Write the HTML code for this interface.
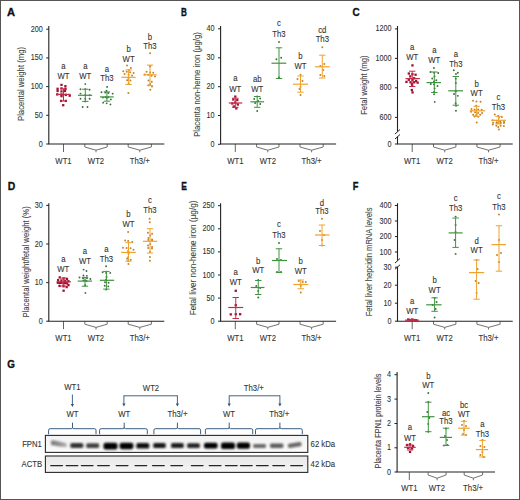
<!DOCTYPE html>
<html><head><meta charset="utf-8"><style>
html,body{margin:0;padding:0;background:#fff;}
svg{display:block;font-family:"Liberation Sans", sans-serif;}
</style></head><body>
<svg width="520" height="500" viewBox="0 0 520 500">
<rect x="0" y="0" width="520" height="500" fill="#fff"/>
<text transform="translate(11.00,16.20) scale(0.96,1)" font-size="11.6" text-anchor="middle" fill="#111" font-weight="bold" stroke="#111" stroke-width="0.35">A</text>
<line x1="48.80" y1="26.00" x2="48.80" y2="144.00" stroke="#222" stroke-width="1.1"/>
<line x1="46.20" y1="29.20" x2="48.80" y2="29.20" stroke="#222" stroke-width="1"/>
<text transform="translate(42.80,31.77) scale(0.87,1)" font-size="8.3" text-anchor="end" fill="#333" stroke="#333" stroke-width="0.1" font-weight="normal" >200</text>
<line x1="46.20" y1="57.90" x2="48.80" y2="57.90" stroke="#222" stroke-width="1"/>
<text transform="translate(42.80,60.47) scale(0.87,1)" font-size="8.3" text-anchor="end" fill="#333" stroke="#333" stroke-width="0.1" font-weight="normal" >150</text>
<line x1="46.20" y1="86.60" x2="48.80" y2="86.60" stroke="#222" stroke-width="1"/>
<text transform="translate(42.80,89.17) scale(0.87,1)" font-size="8.3" text-anchor="end" fill="#333" stroke="#333" stroke-width="0.1" font-weight="normal" >100</text>
<line x1="46.20" y1="115.30" x2="48.80" y2="115.30" stroke="#222" stroke-width="1"/>
<text transform="translate(42.80,117.87) scale(0.87,1)" font-size="8.3" text-anchor="end" fill="#333" stroke="#333" stroke-width="0.1" font-weight="normal" >50</text>
<line x1="46.20" y1="144.00" x2="48.80" y2="144.00" stroke="#222" stroke-width="1"/>
<text transform="translate(42.80,146.57) scale(0.87,1)" font-size="8.3" text-anchor="end" fill="#333" stroke="#333" stroke-width="0.1" font-weight="normal" >0</text>
<text x="0" y="0" font-size="8.9" text-anchor="middle" fill="#404040" stroke="#404040" stroke-width="0.08" transform="translate(20.50,84.00) rotate(-90) scale(0.865,1)" dy="3.24">Placental weight (mg)</text>
<line x1="63.50" y1="144.00" x2="63.50" y2="152.00" stroke="#555" stroke-width="0.9"/>
<path d="M84.80,144.00 L84.80,147.00 L96.00,150.20 L107.20,147.00 L107.20,144.00 M96.00,150.20 L96.00,152.30" fill="none" stroke="#5a5a5a" stroke-width="0.85"/>
<path d="M128.20,144.00 L128.20,147.00 L139.80,150.20 L151.40,147.00 L151.40,144.00 M139.80,150.20 L139.80,152.30" fill="none" stroke="#5a5a5a" stroke-width="0.85"/>
<text transform="translate(63.50,163.73) scale(0.9,1)" font-size="8.6" text-anchor="middle" fill="#333" stroke="#333" stroke-width="0.1" font-weight="normal" >WT1</text>
<text transform="translate(96.00,163.73) scale(0.9,1)" font-size="8.6" text-anchor="middle" fill="#333" stroke="#333" stroke-width="0.1" font-weight="normal" >WT2</text>
<text transform="translate(139.80,163.73) scale(0.9,1)" font-size="8.6" text-anchor="middle" fill="#333" stroke="#333" stroke-width="0.1" font-weight="normal" >Th3/+</text>
<line x1="48.30" y1="144.00" x2="164.30" y2="144.00" stroke="#222" stroke-width="1.1"/>
<text transform="translate(63.50,69.44) scale(0.9,1)" font-size="8.6" text-anchor="middle" fill="#333" stroke="#333" stroke-width="0.1" font-weight="normal" >a</text>
<text transform="translate(63.50,79.43) scale(0.9,1)" font-size="8.6" text-anchor="middle" fill="#333" stroke="#333" stroke-width="0.1" font-weight="normal" >WT</text>
<rect x="60.35" y="83.75" width="2.30" height="2.30" fill="#a3102f"/>
<rect x="64.25" y="85.05" width="2.30" height="2.30" fill="#a3102f"/>
<rect x="56.45" y="87.65" width="2.30" height="2.30" fill="#a3102f"/>
<rect x="60.35" y="87.25" width="2.30" height="2.30" fill="#a3102f"/>
<rect x="64.25" y="87.65" width="2.30" height="2.30" fill="#a3102f"/>
<rect x="56.45" y="89.85" width="2.30" height="2.30" fill="#a3102f"/>
<rect x="60.35" y="90.25" width="2.30" height="2.30" fill="#a3102f"/>
<rect x="63.85" y="89.85" width="2.30" height="2.30" fill="#a3102f"/>
<rect x="56.05" y="93.25" width="2.30" height="2.30" fill="#a3102f"/>
<rect x="60.35" y="93.25" width="2.30" height="2.30" fill="#a3102f"/>
<rect x="64.65" y="93.75" width="2.30" height="2.30" fill="#a3102f"/>
<rect x="68.55" y="94.55" width="2.30" height="2.30" fill="#a3102f"/>
<rect x="60.35" y="95.05" width="2.30" height="2.30" fill="#a3102f"/>
<rect x="59.95" y="99.75" width="2.30" height="2.30" fill="#a3102f"/>
<rect x="64.65" y="99.75" width="2.30" height="2.30" fill="#a3102f"/>
<rect x="62.05" y="104.05" width="2.30" height="2.30" fill="#a3102f"/>
<line x1="63.50" y1="88.80" x2="63.50" y2="101.00" stroke="#c42c4c" stroke-width="1.0"/>
<line x1="60.30" y1="88.80" x2="66.70" y2="88.80" stroke="#c42c4c" stroke-width="1.0"/>
<line x1="60.30" y1="101.00" x2="66.70" y2="101.00" stroke="#c42c4c" stroke-width="1.0"/>
<line x1="56.30" y1="94.40" x2="70.60" y2="94.40" stroke="#c42c4c" stroke-width="1.2"/>
<text transform="translate(85.30,69.44) scale(0.9,1)" font-size="8.6" text-anchor="middle" fill="#333" stroke="#333" stroke-width="0.1" font-weight="normal" >a</text>
<text transform="translate(85.30,79.43) scale(0.9,1)" font-size="8.6" text-anchor="middle" fill="#333" stroke="#333" stroke-width="0.1" font-weight="normal" >WT</text>
<circle cx="85.30" cy="84.10" r="0.95" fill="#3a6e3a"/>
<circle cx="80.50" cy="89.20" r="0.95" fill="#3a6e3a"/>
<circle cx="85.30" cy="89.20" r="0.95" fill="#3a6e3a"/>
<circle cx="89.60" cy="89.70" r="0.95" fill="#3a6e3a"/>
<circle cx="80.50" cy="93.60" r="0.95" fill="#3a6e3a"/>
<circle cx="85.30" cy="95.30" r="0.95" fill="#3a6e3a"/>
<circle cx="89.60" cy="95.30" r="0.95" fill="#3a6e3a"/>
<circle cx="80.50" cy="98.80" r="0.95" fill="#3a6e3a"/>
<circle cx="85.30" cy="98.80" r="0.95" fill="#3a6e3a"/>
<circle cx="89.60" cy="98.80" r="0.95" fill="#3a6e3a"/>
<circle cx="85.30" cy="101.40" r="0.95" fill="#3a6e3a"/>
<circle cx="82.70" cy="107.00" r="0.95" fill="#3a6e3a"/>
<circle cx="87.50" cy="107.00" r="0.95" fill="#3a6e3a"/>
<line x1="85.30" y1="89.20" x2="85.30" y2="101.40" stroke="#3f943f" stroke-width="1.0"/>
<line x1="82.10" y1="89.20" x2="88.50" y2="89.20" stroke="#3f943f" stroke-width="1.0"/>
<line x1="82.10" y1="101.40" x2="88.50" y2="101.40" stroke="#3f943f" stroke-width="1.0"/>
<line x1="78.00" y1="95.30" x2="92.20" y2="95.30" stroke="#3f943f" stroke-width="1.2"/>
<text transform="translate(106.90,71.94) scale(0.9,1)" font-size="8.6" text-anchor="middle" fill="#333" stroke="#333" stroke-width="0.1" font-weight="normal" >a</text>
<text transform="translate(106.90,81.33) scale(0.9,1)" font-size="8.6" text-anchor="middle" fill="#333" stroke="#333" stroke-width="0.1" font-weight="normal" >Th3</text>
<circle cx="107.11" cy="86.90" r="0.95" fill="#3a6e3a"/>
<circle cx="106.50" cy="90.71" r="0.95" fill="#3a6e3a"/>
<circle cx="101.46" cy="92.22" r="0.95" fill="#3a6e3a"/>
<circle cx="105.28" cy="92.53" r="0.95" fill="#3a6e3a"/>
<circle cx="108.48" cy="93.00" r="0.95" fill="#3a6e3a"/>
<circle cx="112.66" cy="93.66" r="0.95" fill="#3a6e3a"/>
<circle cx="105.42" cy="97.14" r="0.95" fill="#3a6e3a"/>
<circle cx="108.32" cy="97.29" r="0.95" fill="#3a6e3a"/>
<circle cx="102.92" cy="97.58" r="0.95" fill="#3a6e3a"/>
<circle cx="106.93" cy="97.87" r="0.95" fill="#3a6e3a"/>
<circle cx="110.85" cy="99.39" r="0.95" fill="#3a6e3a"/>
<circle cx="103.20" cy="102.64" r="0.95" fill="#3a6e3a"/>
<circle cx="106.67" cy="103.34" r="0.95" fill="#3a6e3a"/>
<circle cx="110.44" cy="104.40" r="0.95" fill="#3a6e3a"/>
<line x1="106.90" y1="91.90" x2="106.90" y2="101.20" stroke="#3f943f" stroke-width="1.0"/>
<line x1="103.70" y1="91.90" x2="110.10" y2="91.90" stroke="#3f943f" stroke-width="1.0"/>
<line x1="103.70" y1="101.20" x2="110.10" y2="101.20" stroke="#3f943f" stroke-width="1.0"/>
<line x1="100.00" y1="96.90" x2="113.75" y2="96.90" stroke="#3f943f" stroke-width="1.2"/>
<text transform="translate(128.60,52.34) scale(0.9,1)" font-size="8.6" text-anchor="middle" fill="#333" stroke="#333" stroke-width="0.1" font-weight="normal" >b</text>
<text transform="translate(128.60,61.93) scale(0.9,1)" font-size="8.6" text-anchor="middle" fill="#333" stroke="#333" stroke-width="0.1" font-weight="normal" >WT</text>
<circle cx="126.98" cy="65.60" r="1.00" fill="#c4842c"/>
<circle cx="130.80" cy="67.90" r="1.00" fill="#c4842c"/>
<circle cx="128.96" cy="70.14" r="1.00" fill="#c4842c"/>
<circle cx="123.24" cy="71.29" r="1.00" fill="#c4842c"/>
<circle cx="126.76" cy="71.72" r="1.00" fill="#c4842c"/>
<circle cx="130.21" cy="72.35" r="1.00" fill="#c4842c"/>
<circle cx="133.63" cy="72.96" r="1.00" fill="#c4842c"/>
<circle cx="124.62" cy="73.99" r="1.00" fill="#c4842c"/>
<circle cx="128.57" cy="74.66" r="1.00" fill="#c4842c"/>
<circle cx="132.05" cy="75.54" r="1.00" fill="#c4842c"/>
<circle cx="128.50" cy="78.50" r="1.00" fill="#c4842c"/>
<circle cx="127.11" cy="80.20" r="1.00" fill="#c4842c"/>
<circle cx="130.42" cy="80.39" r="1.00" fill="#c4842c"/>
<circle cx="128.65" cy="83.22" r="1.00" fill="#c4842c"/>
<circle cx="128.39" cy="93.00" r="1.00" fill="#c4842c"/>
<line x1="128.60" y1="69.90" x2="128.60" y2="84.50" stroke="#f0a22e" stroke-width="1.0"/>
<line x1="125.40" y1="69.90" x2="131.80" y2="69.90" stroke="#f0a22e" stroke-width="1.0"/>
<line x1="125.40" y1="84.50" x2="131.80" y2="84.50" stroke="#f0a22e" stroke-width="1.0"/>
<line x1="121.30" y1="77.30" x2="135.60" y2="77.30" stroke="#f0a22e" stroke-width="1.2"/>
<text transform="translate(150.00,40.34) scale(0.9,1)" font-size="8.6" text-anchor="middle" fill="#333" stroke="#333" stroke-width="0.1" font-weight="normal" >b</text>
<text transform="translate(150.00,49.13) scale(0.9,1)" font-size="8.6" text-anchor="middle" fill="#333" stroke="#333" stroke-width="0.1" font-weight="normal" >Th3</text>
<circle cx="150.11" cy="53.20" r="1.00" fill="#c4842c"/>
<circle cx="150.29" cy="66.09" r="1.00" fill="#c4842c"/>
<circle cx="150.02" cy="66.48" r="1.00" fill="#c4842c"/>
<circle cx="146.59" cy="71.64" r="1.00" fill="#c4842c"/>
<circle cx="150.14" cy="72.61" r="1.00" fill="#c4842c"/>
<circle cx="153.25" cy="72.63" r="1.00" fill="#c4842c"/>
<circle cx="144.81" cy="74.61" r="1.00" fill="#c4842c"/>
<circle cx="148.27" cy="74.72" r="1.00" fill="#c4842c"/>
<circle cx="151.64" cy="75.87" r="1.00" fill="#c4842c"/>
<circle cx="155.02" cy="76.44" r="1.00" fill="#c4842c"/>
<circle cx="148.49" cy="80.38" r="1.00" fill="#c4842c"/>
<circle cx="151.78" cy="81.67" r="1.00" fill="#c4842c"/>
<circle cx="150.18" cy="84.08" r="1.00" fill="#c4842c"/>
<circle cx="148.50" cy="85.31" r="1.00" fill="#c4842c"/>
<circle cx="151.97" cy="86.44" r="1.00" fill="#c4842c"/>
<circle cx="150.34" cy="89.80" r="1.00" fill="#c4842c"/>
<line x1="150.00" y1="65.10" x2="150.00" y2="85.60" stroke="#f0a22e" stroke-width="1.0"/>
<line x1="146.80" y1="65.10" x2="153.20" y2="65.10" stroke="#f0a22e" stroke-width="1.0"/>
<line x1="146.80" y1="85.60" x2="153.20" y2="85.60" stroke="#f0a22e" stroke-width="1.0"/>
<line x1="143.20" y1="74.80" x2="156.70" y2="74.80" stroke="#f0a22e" stroke-width="1.2"/>
<text transform="translate(183.90,16.10) scale(0.7,1)" font-size="11.6" text-anchor="middle" fill="#111" font-weight="bold" stroke="#111" stroke-width="0.35">B</text>
<line x1="220.60" y1="26.00" x2="220.60" y2="144.00" stroke="#222" stroke-width="1.1"/>
<line x1="218.00" y1="28.80" x2="220.60" y2="28.80" stroke="#222" stroke-width="1"/>
<text transform="translate(214.60,31.37) scale(0.87,1)" font-size="8.3" text-anchor="end" fill="#333" stroke="#333" stroke-width="0.1" font-weight="normal" >40</text>
<line x1="218.00" y1="57.80" x2="220.60" y2="57.80" stroke="#222" stroke-width="1"/>
<text transform="translate(214.60,60.37) scale(0.87,1)" font-size="8.3" text-anchor="end" fill="#333" stroke="#333" stroke-width="0.1" font-weight="normal" >30</text>
<line x1="218.00" y1="86.70" x2="220.60" y2="86.70" stroke="#222" stroke-width="1"/>
<text transform="translate(214.60,89.27) scale(0.87,1)" font-size="8.3" text-anchor="end" fill="#333" stroke="#333" stroke-width="0.1" font-weight="normal" >20</text>
<line x1="218.00" y1="115.50" x2="220.60" y2="115.50" stroke="#222" stroke-width="1"/>
<text transform="translate(214.60,118.07) scale(0.87,1)" font-size="8.3" text-anchor="end" fill="#333" stroke="#333" stroke-width="0.1" font-weight="normal" >10</text>
<line x1="218.00" y1="144.30" x2="220.60" y2="144.30" stroke="#222" stroke-width="1"/>
<text transform="translate(214.60,146.87) scale(0.87,1)" font-size="8.3" text-anchor="end" fill="#333" stroke="#333" stroke-width="0.1" font-weight="normal" >0</text>
<text x="0" y="0" font-size="8.9" text-anchor="middle" fill="#404040" stroke="#404040" stroke-width="0.08" transform="translate(197.00,84.50) rotate(-90) scale(0.872,1)" dy="3.24">Placenta non-heme iron (µg/g)</text>
<line x1="235.30" y1="144.00" x2="235.30" y2="152.00" stroke="#555" stroke-width="0.9"/>
<path d="M256.60,144.00 L256.60,147.00 L267.80,150.20 L279.00,147.00 L279.00,144.00 M267.80,150.20 L267.80,152.30" fill="none" stroke="#5a5a5a" stroke-width="0.85"/>
<path d="M300.00,144.00 L300.00,147.00 L311.60,150.20 L323.20,147.00 L323.20,144.00 M311.60,150.20 L311.60,152.30" fill="none" stroke="#5a5a5a" stroke-width="0.85"/>
<text transform="translate(235.30,163.73) scale(0.9,1)" font-size="8.6" text-anchor="middle" fill="#333" stroke="#333" stroke-width="0.1" font-weight="normal" >WT1</text>
<text transform="translate(267.80,163.73) scale(0.9,1)" font-size="8.6" text-anchor="middle" fill="#333" stroke="#333" stroke-width="0.1" font-weight="normal" >WT2</text>
<text transform="translate(311.60,163.73) scale(0.9,1)" font-size="8.6" text-anchor="middle" fill="#333" stroke="#333" stroke-width="0.1" font-weight="normal" >Th3/+</text>
<line x1="220.10" y1="144.00" x2="336.10" y2="144.00" stroke="#222" stroke-width="1.1"/>
<text transform="translate(235.30,80.74) scale(0.9,1)" font-size="8.6" text-anchor="middle" fill="#333" stroke="#333" stroke-width="0.1" font-weight="normal" >a</text>
<text transform="translate(235.30,91.73) scale(0.9,1)" font-size="8.6" text-anchor="middle" fill="#333" stroke="#333" stroke-width="0.1" font-weight="normal" >WT</text>
<rect x="234.15" y="95.45" width="2.30" height="2.30" fill="#a3102f"/>
<rect x="232.15" y="98.35" width="2.30" height="2.30" fill="#a3102f"/>
<rect x="236.15" y="98.85" width="2.30" height="2.30" fill="#a3102f"/>
<rect x="234.15" y="101.35" width="2.30" height="2.30" fill="#a3102f"/>
<rect x="231.15" y="102.35" width="2.30" height="2.30" fill="#a3102f"/>
<rect x="236.65" y="103.35" width="2.30" height="2.30" fill="#a3102f"/>
<rect x="232.65" y="105.35" width="2.30" height="2.30" fill="#a3102f"/>
<rect x="235.15" y="107.25" width="2.30" height="2.30" fill="#a3102f"/>
<line x1="235.30" y1="98.20" x2="235.30" y2="107.30" stroke="#c42c4c" stroke-width="1.0"/>
<line x1="232.10" y1="98.20" x2="238.50" y2="98.20" stroke="#c42c4c" stroke-width="1.0"/>
<line x1="232.10" y1="107.30" x2="238.50" y2="107.30" stroke="#c42c4c" stroke-width="1.0"/>
<line x1="228.80" y1="103.00" x2="242.30" y2="103.00" stroke="#c42c4c" stroke-width="1.2"/>
<text transform="translate(257.20,81.64) scale(0.9,1)" font-size="8.6" text-anchor="middle" fill="#333" stroke="#333" stroke-width="0.1" font-weight="normal" >ab</text>
<text transform="translate(257.20,91.73) scale(0.9,1)" font-size="8.6" text-anchor="middle" fill="#333" stroke="#333" stroke-width="0.1" font-weight="normal" >WT</text>
<circle cx="257.20" cy="96.40" r="0.95" fill="#3a6e3a"/>
<circle cx="254.20" cy="99.00" r="0.95" fill="#3a6e3a"/>
<circle cx="260.20" cy="98.50" r="0.95" fill="#3a6e3a"/>
<circle cx="258.20" cy="101.00" r="0.95" fill="#3a6e3a"/>
<circle cx="255.20" cy="103.00" r="0.95" fill="#3a6e3a"/>
<circle cx="260.20" cy="104.00" r="0.95" fill="#3a6e3a"/>
<circle cx="257.20" cy="111.00" r="0.95" fill="#3a6e3a"/>
<line x1="257.20" y1="96.50" x2="257.20" y2="107.30" stroke="#3f943f" stroke-width="1.0"/>
<line x1="254.00" y1="96.50" x2="260.40" y2="96.50" stroke="#3f943f" stroke-width="1.0"/>
<line x1="254.00" y1="107.30" x2="260.40" y2="107.30" stroke="#3f943f" stroke-width="1.0"/>
<line x1="250.40" y1="101.80" x2="264.10" y2="101.80" stroke="#3f943f" stroke-width="1.2"/>
<text transform="translate(279.00,26.14) scale(0.9,1)" font-size="8.6" text-anchor="middle" fill="#333" stroke="#333" stroke-width="0.1" font-weight="normal" >c</text>
<text transform="translate(279.00,36.73) scale(0.9,1)" font-size="8.6" text-anchor="middle" fill="#333" stroke="#333" stroke-width="0.1" font-weight="normal" >Th3</text>
<circle cx="279.00" cy="42.00" r="0.95" fill="#3a6e3a"/>
<circle cx="276.40" cy="59.20" r="0.95" fill="#3a6e3a"/>
<circle cx="281.20" cy="57.80" r="0.95" fill="#3a6e3a"/>
<circle cx="279.00" cy="77.50" r="0.95" fill="#3a6e3a"/>
<line x1="279.00" y1="47.80" x2="279.00" y2="78.50" stroke="#3f943f" stroke-width="1.0"/>
<line x1="275.80" y1="47.80" x2="282.20" y2="47.80" stroke="#3f943f" stroke-width="1.0"/>
<line x1="275.80" y1="78.50" x2="282.20" y2="78.50" stroke="#3f943f" stroke-width="1.0"/>
<line x1="271.50" y1="63.20" x2="286.30" y2="63.20" stroke="#3f943f" stroke-width="1.2"/>
<text transform="translate(300.50,58.74) scale(0.9,1)" font-size="8.6" text-anchor="middle" fill="#333" stroke="#333" stroke-width="0.1" font-weight="normal" >b</text>
<text transform="translate(300.50,68.93) scale(0.9,1)" font-size="8.6" text-anchor="middle" fill="#333" stroke="#333" stroke-width="0.1" font-weight="normal" >WT</text>
<circle cx="300.50" cy="74.70" r="1.00" fill="#c4842c"/>
<circle cx="297.50" cy="79.00" r="1.00" fill="#c4842c"/>
<circle cx="302.50" cy="81.00" r="1.00" fill="#c4842c"/>
<circle cx="300.50" cy="87.00" r="1.00" fill="#c4842c"/>
<circle cx="299.50" cy="89.00" r="1.00" fill="#c4842c"/>
<circle cx="300.50" cy="95.00" r="1.00" fill="#c4842c"/>
<line x1="300.50" y1="76.00" x2="300.50" y2="92.20" stroke="#f0a22e" stroke-width="1.0"/>
<line x1="297.30" y1="76.00" x2="303.70" y2="76.00" stroke="#f0a22e" stroke-width="1.0"/>
<line x1="297.30" y1="92.20" x2="303.70" y2="92.20" stroke="#f0a22e" stroke-width="1.0"/>
<line x1="293.00" y1="84.20" x2="308.00" y2="84.20" stroke="#f0a22e" stroke-width="1.2"/>
<text transform="translate(322.30,32.94) scale(0.9,1)" font-size="8.6" text-anchor="middle" fill="#333" stroke="#333" stroke-width="0.1" font-weight="normal" >cd</text>
<text transform="translate(322.30,42.43) scale(0.9,1)" font-size="8.6" text-anchor="middle" fill="#333" stroke="#333" stroke-width="0.1" font-weight="normal" >Th3</text>
<circle cx="322.30" cy="47.20" r="1.00" fill="#c4842c"/>
<circle cx="320.30" cy="66.00" r="1.00" fill="#c4842c"/>
<circle cx="324.30" cy="64.00" r="1.00" fill="#c4842c"/>
<circle cx="323.30" cy="70.00" r="1.00" fill="#c4842c"/>
<circle cx="320.30" cy="75.00" r="1.00" fill="#c4842c"/>
<circle cx="324.30" cy="76.00" r="1.00" fill="#c4842c"/>
<line x1="322.30" y1="55.20" x2="322.30" y2="78.00" stroke="#f0a22e" stroke-width="1.0"/>
<line x1="319.10" y1="55.20" x2="325.50" y2="55.20" stroke="#f0a22e" stroke-width="1.0"/>
<line x1="319.10" y1="78.00" x2="325.50" y2="78.00" stroke="#f0a22e" stroke-width="1.0"/>
<line x1="314.90" y1="66.80" x2="329.70" y2="66.80" stroke="#f0a22e" stroke-width="1.2"/>
<text transform="translate(356.00,16.10) scale(0.86,1)" font-size="11.6" text-anchor="middle" fill="#111" font-weight="bold" stroke="#111" stroke-width="0.35">C</text>
<line x1="397.50" y1="26.00" x2="397.50" y2="131.50" stroke="#222" stroke-width="1.1"/>
<line x1="397.50" y1="136.50" x2="397.50" y2="144.00" stroke="#222" stroke-width="1.1"/>
<line x1="395.00" y1="134.00" x2="400.00" y2="129.50" stroke="#222" stroke-width="1"/>
<line x1="395.00" y1="139.00" x2="400.00" y2="134.50" stroke="#222" stroke-width="1"/>
<line x1="394.90" y1="28.90" x2="397.50" y2="28.90" stroke="#222" stroke-width="1"/>
<text transform="translate(391.50,31.47) scale(0.87,1)" font-size="8.3" text-anchor="end" fill="#333" stroke="#333" stroke-width="0.1" font-weight="normal" >1200</text>
<line x1="394.90" y1="58.40" x2="397.50" y2="58.40" stroke="#222" stroke-width="1"/>
<text transform="translate(391.50,60.97) scale(0.87,1)" font-size="8.3" text-anchor="end" fill="#333" stroke="#333" stroke-width="0.1" font-weight="normal" >1000</text>
<line x1="394.90" y1="87.80" x2="397.50" y2="87.80" stroke="#222" stroke-width="1"/>
<text transform="translate(391.50,90.37) scale(0.87,1)" font-size="8.3" text-anchor="end" fill="#333" stroke="#333" stroke-width="0.1" font-weight="normal" >800</text>
<line x1="394.90" y1="117.40" x2="397.50" y2="117.40" stroke="#222" stroke-width="1"/>
<text transform="translate(391.50,119.97) scale(0.87,1)" font-size="8.3" text-anchor="end" fill="#333" stroke="#333" stroke-width="0.1" font-weight="normal" >600</text>
<line x1="394.90" y1="144.00" x2="397.50" y2="144.00" stroke="#222" stroke-width="1"/>
<text transform="translate(391.50,146.57) scale(0.87,1)" font-size="8.3" text-anchor="end" fill="#333" stroke="#333" stroke-width="0.1" font-weight="normal" >0</text>
<text x="0" y="0" font-size="8.9" text-anchor="middle" fill="#404040" stroke="#404040" stroke-width="0.08" transform="translate(364.10,85.10) rotate(-90) scale(0.866,1)" dy="3.24">Fetal weight (mg)</text>
<line x1="412.20" y1="144.00" x2="412.20" y2="152.00" stroke="#555" stroke-width="0.9"/>
<path d="M433.50,144.00 L433.50,147.00 L444.70,150.20 L455.90,147.00 L455.90,144.00 M444.70,150.20 L444.70,152.30" fill="none" stroke="#5a5a5a" stroke-width="0.85"/>
<path d="M476.90,144.00 L476.90,147.00 L488.50,150.20 L500.10,147.00 L500.10,144.00 M488.50,150.20 L488.50,152.30" fill="none" stroke="#5a5a5a" stroke-width="0.85"/>
<text transform="translate(412.20,163.73) scale(0.9,1)" font-size="8.6" text-anchor="middle" fill="#333" stroke="#333" stroke-width="0.1" font-weight="normal" >WT1</text>
<text transform="translate(444.70,163.73) scale(0.9,1)" font-size="8.6" text-anchor="middle" fill="#333" stroke="#333" stroke-width="0.1" font-weight="normal" >WT2</text>
<text transform="translate(488.50,163.73) scale(0.9,1)" font-size="8.6" text-anchor="middle" fill="#333" stroke="#333" stroke-width="0.1" font-weight="normal" >Th3/+</text>
<line x1="397.00" y1="144.00" x2="512.70" y2="144.00" stroke="#222" stroke-width="1.1"/>
<text transform="translate(412.20,49.54) scale(0.9,1)" font-size="8.6" text-anchor="middle" fill="#333" stroke="#333" stroke-width="0.1" font-weight="normal" >a</text>
<text transform="translate(412.20,60.13) scale(0.9,1)" font-size="8.6" text-anchor="middle" fill="#333" stroke="#333" stroke-width="0.1" font-weight="normal" >WT</text>
<rect x="411.31" y="64.25" width="2.30" height="2.30" fill="#a3102f"/>
<rect x="407.70" y="72.38" width="2.30" height="2.30" fill="#a3102f"/>
<rect x="411.29" y="73.06" width="2.30" height="2.30" fill="#a3102f"/>
<rect x="414.40" y="73.59" width="2.30" height="2.30" fill="#a3102f"/>
<rect x="409.10" y="75.24" width="2.30" height="2.30" fill="#a3102f"/>
<rect x="412.95" y="77.11" width="2.30" height="2.30" fill="#a3102f"/>
<rect x="407.64" y="78.63" width="2.30" height="2.30" fill="#a3102f"/>
<rect x="411.33" y="78.80" width="2.30" height="2.30" fill="#a3102f"/>
<rect x="414.95" y="79.84" width="2.30" height="2.30" fill="#a3102f"/>
<rect x="405.32" y="80.73" width="2.30" height="2.30" fill="#a3102f"/>
<rect x="409.33" y="81.13" width="2.30" height="2.30" fill="#a3102f"/>
<rect x="412.99" y="81.18" width="2.30" height="2.30" fill="#a3102f"/>
<rect x="416.45" y="81.49" width="2.30" height="2.30" fill="#a3102f"/>
<rect x="410.79" y="82.98" width="2.30" height="2.30" fill="#a3102f"/>
<rect x="411.03" y="84.60" width="2.30" height="2.30" fill="#a3102f"/>
<rect x="410.72" y="88.89" width="2.30" height="2.30" fill="#a3102f"/>
<rect x="411.40" y="91.25" width="2.30" height="2.30" fill="#a3102f"/>
<line x1="412.20" y1="71.20" x2="412.20" y2="86.50" stroke="#c42c4c" stroke-width="1.0"/>
<line x1="409.00" y1="71.20" x2="415.40" y2="71.20" stroke="#c42c4c" stroke-width="1.0"/>
<line x1="409.00" y1="86.50" x2="415.40" y2="86.50" stroke="#c42c4c" stroke-width="1.0"/>
<line x1="405.50" y1="78.60" x2="420.00" y2="78.60" stroke="#c42c4c" stroke-width="1.2"/>
<text transform="translate(434.30,53.24) scale(0.9,1)" font-size="8.6" text-anchor="middle" fill="#333" stroke="#333" stroke-width="0.1" font-weight="normal" >a</text>
<text transform="translate(434.30,63.03) scale(0.9,1)" font-size="8.6" text-anchor="middle" fill="#333" stroke="#333" stroke-width="0.1" font-weight="normal" >WT</text>
<circle cx="433.91" cy="68.00" r="0.95" fill="#3a6e3a"/>
<circle cx="430.47" cy="72.05" r="0.95" fill="#3a6e3a"/>
<circle cx="434.12" cy="72.71" r="0.95" fill="#3a6e3a"/>
<circle cx="438.23" cy="72.97" r="0.95" fill="#3a6e3a"/>
<circle cx="434.51" cy="76.44" r="0.95" fill="#3a6e3a"/>
<circle cx="432.23" cy="78.43" r="0.95" fill="#3a6e3a"/>
<circle cx="436.34" cy="80.28" r="0.95" fill="#3a6e3a"/>
<circle cx="434.01" cy="81.48" r="0.95" fill="#3a6e3a"/>
<circle cx="430.79" cy="83.93" r="0.95" fill="#3a6e3a"/>
<circle cx="434.00" cy="84.42" r="0.95" fill="#3a6e3a"/>
<circle cx="437.50" cy="86.07" r="0.95" fill="#3a6e3a"/>
<circle cx="434.60" cy="88.37" r="0.95" fill="#3a6e3a"/>
<circle cx="434.07" cy="92.03" r="0.95" fill="#3a6e3a"/>
<circle cx="434.07" cy="94.19" r="0.95" fill="#3a6e3a"/>
<circle cx="434.69" cy="101.90" r="0.95" fill="#3a6e3a"/>
<line x1="434.30" y1="72.00" x2="434.30" y2="92.50" stroke="#3f943f" stroke-width="1.0"/>
<line x1="431.10" y1="72.00" x2="437.50" y2="72.00" stroke="#3f943f" stroke-width="1.0"/>
<line x1="431.10" y1="92.50" x2="437.50" y2="92.50" stroke="#3f943f" stroke-width="1.0"/>
<line x1="426.50" y1="82.60" x2="441.00" y2="82.60" stroke="#3f943f" stroke-width="1.2"/>
<text transform="translate(455.80,57.04) scale(0.9,1)" font-size="8.6" text-anchor="middle" fill="#333" stroke="#333" stroke-width="0.1" font-weight="normal" >a</text>
<text transform="translate(455.80,66.73) scale(0.9,1)" font-size="8.6" text-anchor="middle" fill="#333" stroke="#333" stroke-width="0.1" font-weight="normal" >Th3</text>
<circle cx="453.82" cy="70.30" r="0.95" fill="#3a6e3a"/>
<circle cx="457.84" cy="72.68" r="0.95" fill="#3a6e3a"/>
<circle cx="455.98" cy="74.00" r="0.95" fill="#3a6e3a"/>
<circle cx="455.73" cy="78.67" r="0.95" fill="#3a6e3a"/>
<circle cx="455.83" cy="82.95" r="0.95" fill="#3a6e3a"/>
<circle cx="455.95" cy="90.84" r="0.95" fill="#3a6e3a"/>
<circle cx="455.55" cy="91.54" r="0.95" fill="#3a6e3a"/>
<circle cx="454.04" cy="93.98" r="0.95" fill="#3a6e3a"/>
<circle cx="457.84" cy="95.86" r="0.95" fill="#3a6e3a"/>
<circle cx="455.61" cy="103.22" r="0.95" fill="#3a6e3a"/>
<circle cx="456.04" cy="105.73" r="0.95" fill="#3a6e3a"/>
<circle cx="455.95" cy="110.80" r="0.95" fill="#3a6e3a"/>
<line x1="455.80" y1="76.50" x2="455.80" y2="105.20" stroke="#3f943f" stroke-width="1.0"/>
<line x1="452.60" y1="76.50" x2="459.00" y2="76.50" stroke="#3f943f" stroke-width="1.0"/>
<line x1="452.60" y1="105.20" x2="459.00" y2="105.20" stroke="#3f943f" stroke-width="1.0"/>
<line x1="448.20" y1="90.80" x2="463.00" y2="90.80" stroke="#3f943f" stroke-width="1.2"/>
<text transform="translate(476.60,86.64) scale(0.9,1)" font-size="8.6" text-anchor="middle" fill="#333" stroke="#333" stroke-width="0.1" font-weight="normal" >b</text>
<text transform="translate(476.60,96.13) scale(0.9,1)" font-size="8.6" text-anchor="middle" fill="#333" stroke="#333" stroke-width="0.1" font-weight="normal" >WT</text>
<circle cx="473.06" cy="100.80" r="1.00" fill="#c4842c"/>
<circle cx="476.52" cy="101.62" r="1.00" fill="#c4842c"/>
<circle cx="480.58" cy="101.76" r="1.00" fill="#c4842c"/>
<circle cx="476.24" cy="105.75" r="1.00" fill="#c4842c"/>
<circle cx="471.49" cy="109.09" r="1.00" fill="#c4842c"/>
<circle cx="474.63" cy="109.41" r="1.00" fill="#c4842c"/>
<circle cx="478.12" cy="109.57" r="1.00" fill="#c4842c"/>
<circle cx="481.69" cy="109.64" r="1.00" fill="#c4842c"/>
<circle cx="471.05" cy="111.81" r="1.00" fill="#c4842c"/>
<circle cx="475.05" cy="112.15" r="1.00" fill="#c4842c"/>
<circle cx="478.14" cy="112.94" r="1.00" fill="#c4842c"/>
<circle cx="482.07" cy="113.10" r="1.00" fill="#c4842c"/>
<circle cx="473.11" cy="114.71" r="1.00" fill="#c4842c"/>
<circle cx="476.50" cy="114.75" r="1.00" fill="#c4842c"/>
<circle cx="480.24" cy="114.77" r="1.00" fill="#c4842c"/>
<circle cx="476.25" cy="115.44" r="1.00" fill="#c4842c"/>
<circle cx="474.45" cy="116.43" r="1.00" fill="#c4842c"/>
<circle cx="478.16" cy="116.83" r="1.00" fill="#c4842c"/>
<circle cx="476.74" cy="122.50" r="1.00" fill="#c4842c"/>
<line x1="476.60" y1="106.30" x2="476.60" y2="116.30" stroke="#f0a22e" stroke-width="1.0"/>
<line x1="473.40" y1="106.30" x2="479.80" y2="106.30" stroke="#f0a22e" stroke-width="1.0"/>
<line x1="473.40" y1="116.30" x2="479.80" y2="116.30" stroke="#f0a22e" stroke-width="1.0"/>
<line x1="469.70" y1="110.80" x2="485.20" y2="110.80" stroke="#f0a22e" stroke-width="1.2"/>
<text transform="translate(498.50,99.74) scale(0.9,1)" font-size="8.6" text-anchor="middle" fill="#333" stroke="#333" stroke-width="0.1" font-weight="normal" >c</text>
<text transform="translate(498.50,110.13) scale(0.9,1)" font-size="8.6" text-anchor="middle" fill="#333" stroke="#333" stroke-width="0.1" font-weight="normal" >Th3</text>
<circle cx="494.80" cy="114.50" r="1.00" fill="#c4842c"/>
<circle cx="498.19" cy="116.08" r="1.00" fill="#c4842c"/>
<circle cx="501.91" cy="117.04" r="1.00" fill="#c4842c"/>
<circle cx="498.89" cy="117.67" r="1.00" fill="#c4842c"/>
<circle cx="492.75" cy="120.29" r="1.00" fill="#c4842c"/>
<circle cx="496.80" cy="120.67" r="1.00" fill="#c4842c"/>
<circle cx="500.20" cy="121.58" r="1.00" fill="#c4842c"/>
<circle cx="504.03" cy="121.71" r="1.00" fill="#c4842c"/>
<circle cx="496.57" cy="122.95" r="1.00" fill="#c4842c"/>
<circle cx="500.45" cy="122.97" r="1.00" fill="#c4842c"/>
<circle cx="493.10" cy="122.63" r="1.00" fill="#c4842c"/>
<circle cx="496.82" cy="122.75" r="1.00" fill="#c4842c"/>
<circle cx="500.62" cy="122.83" r="1.00" fill="#c4842c"/>
<circle cx="503.97" cy="122.89" r="1.00" fill="#c4842c"/>
<circle cx="492.81" cy="124.45" r="1.00" fill="#c4842c"/>
<circle cx="496.35" cy="125.63" r="1.00" fill="#c4842c"/>
<circle cx="500.66" cy="125.70" r="1.00" fill="#c4842c"/>
<circle cx="503.89" cy="125.96" r="1.00" fill="#c4842c"/>
<circle cx="498.26" cy="126.95" r="1.00" fill="#c4842c"/>
<circle cx="498.86" cy="129.60" r="1.00" fill="#c4842c"/>
<line x1="498.50" y1="116.30" x2="498.50" y2="124.00" stroke="#f0a22e" stroke-width="1.0"/>
<line x1="495.30" y1="116.30" x2="501.70" y2="116.30" stroke="#f0a22e" stroke-width="1.0"/>
<line x1="495.30" y1="124.00" x2="501.70" y2="124.00" stroke="#f0a22e" stroke-width="1.0"/>
<line x1="491.00" y1="120.30" x2="506.00" y2="120.30" stroke="#f0a22e" stroke-width="1.2"/>
<text transform="translate(11.50,190.10) scale(0.9,1)" font-size="11.6" text-anchor="middle" fill="#111" font-weight="bold" stroke="#111" stroke-width="0.35">D</text>
<line x1="48.80" y1="203.20" x2="48.80" y2="321.20" stroke="#222" stroke-width="1.1"/>
<line x1="46.20" y1="205.40" x2="48.80" y2="205.40" stroke="#222" stroke-width="1"/>
<text transform="translate(42.80,207.97) scale(0.87,1)" font-size="8.3" text-anchor="end" fill="#333" stroke="#333" stroke-width="0.1" font-weight="normal" >30</text>
<line x1="46.20" y1="244.00" x2="48.80" y2="244.00" stroke="#222" stroke-width="1"/>
<text transform="translate(42.80,246.57) scale(0.87,1)" font-size="8.3" text-anchor="end" fill="#333" stroke="#333" stroke-width="0.1" font-weight="normal" >20</text>
<line x1="46.20" y1="282.60" x2="48.80" y2="282.60" stroke="#222" stroke-width="1"/>
<text transform="translate(42.80,285.17) scale(0.87,1)" font-size="8.3" text-anchor="end" fill="#333" stroke="#333" stroke-width="0.1" font-weight="normal" >10</text>
<line x1="46.20" y1="321.20" x2="48.80" y2="321.20" stroke="#222" stroke-width="1"/>
<text transform="translate(42.80,323.77) scale(0.87,1)" font-size="8.3" text-anchor="end" fill="#333" stroke="#333" stroke-width="0.1" font-weight="normal" >0</text>
<text x="0" y="0" font-size="8.9" text-anchor="middle" fill="#404040" stroke="#404040" stroke-width="0.08" transform="translate(25.30,261.90) rotate(-90) scale(0.867,1)" dy="3.24">Placental weight/fetal weight (%)</text>
<line x1="63.50" y1="321.20" x2="63.50" y2="329.20" stroke="#555" stroke-width="0.9"/>
<path d="M84.80,321.20 L84.80,324.20 L96.00,327.40 L107.20,324.20 L107.20,321.20 M96.00,327.40 L96.00,329.50" fill="none" stroke="#5a5a5a" stroke-width="0.85"/>
<path d="M128.20,321.20 L128.20,324.20 L139.80,327.40 L151.40,324.20 L151.40,321.20 M139.80,327.40 L139.80,329.50" fill="none" stroke="#5a5a5a" stroke-width="0.85"/>
<text transform="translate(63.50,340.93) scale(0.9,1)" font-size="8.6" text-anchor="middle" fill="#333" stroke="#333" stroke-width="0.1" font-weight="normal" >WT1</text>
<text transform="translate(96.00,340.93) scale(0.9,1)" font-size="8.6" text-anchor="middle" fill="#333" stroke="#333" stroke-width="0.1" font-weight="normal" >WT2</text>
<text transform="translate(139.80,340.93) scale(0.9,1)" font-size="8.6" text-anchor="middle" fill="#333" stroke="#333" stroke-width="0.1" font-weight="normal" >Th3/+</text>
<line x1="48.30" y1="321.20" x2="164.30" y2="321.20" stroke="#222" stroke-width="1.1"/>
<text transform="translate(63.30,261.94) scale(0.9,1)" font-size="8.6" text-anchor="middle" fill="#333" stroke="#333" stroke-width="0.1" font-weight="normal" >a</text>
<text transform="translate(63.30,271.63) scale(0.9,1)" font-size="8.6" text-anchor="middle" fill="#333" stroke="#333" stroke-width="0.1" font-weight="normal" >WT</text>
<rect x="58.56" y="276.25" width="2.30" height="2.30" fill="#a3102f"/>
<rect x="62.49" y="277.36" width="2.30" height="2.30" fill="#a3102f"/>
<rect x="65.82" y="277.72" width="2.30" height="2.30" fill="#a3102f"/>
<rect x="56.97" y="278.93" width="2.30" height="2.30" fill="#a3102f"/>
<rect x="60.26" y="279.31" width="2.30" height="2.30" fill="#a3102f"/>
<rect x="64.15" y="279.80" width="2.30" height="2.30" fill="#a3102f"/>
<rect x="67.23" y="280.04" width="2.30" height="2.30" fill="#a3102f"/>
<rect x="58.38" y="281.75" width="2.30" height="2.30" fill="#a3102f"/>
<rect x="62.29" y="282.17" width="2.30" height="2.30" fill="#a3102f"/>
<rect x="65.93" y="282.21" width="2.30" height="2.30" fill="#a3102f"/>
<rect x="56.69" y="281.59" width="2.30" height="2.30" fill="#a3102f"/>
<rect x="60.02" y="281.67" width="2.30" height="2.30" fill="#a3102f"/>
<rect x="63.76" y="281.95" width="2.30" height="2.30" fill="#a3102f"/>
<rect x="67.32" y="283.99" width="2.30" height="2.30" fill="#a3102f"/>
<rect x="58.37" y="284.78" width="2.30" height="2.30" fill="#a3102f"/>
<rect x="62.40" y="285.15" width="2.30" height="2.30" fill="#a3102f"/>
<rect x="65.51" y="285.95" width="2.30" height="2.30" fill="#a3102f"/>
<rect x="62.46" y="289.55" width="2.30" height="2.30" fill="#a3102f"/>
<line x1="63.30" y1="278.00" x2="63.30" y2="286.00" stroke="#c42c4c" stroke-width="1.0"/>
<line x1="60.10" y1="278.00" x2="66.50" y2="278.00" stroke="#c42c4c" stroke-width="1.0"/>
<line x1="60.10" y1="286.00" x2="66.50" y2="286.00" stroke="#c42c4c" stroke-width="1.0"/>
<line x1="56.60" y1="281.80" x2="71.00" y2="281.80" stroke="#c42c4c" stroke-width="1.2"/>
<text transform="translate(85.00,253.74) scale(0.9,1)" font-size="8.6" text-anchor="middle" fill="#333" stroke="#333" stroke-width="0.1" font-weight="normal" >a</text>
<text transform="translate(85.00,264.33) scale(0.9,1)" font-size="8.6" text-anchor="middle" fill="#333" stroke="#333" stroke-width="0.1" font-weight="normal" >WT</text>
<circle cx="83.60" cy="269.60" r="0.95" fill="#3a6e3a"/>
<circle cx="86.44" cy="271.00" r="0.95" fill="#3a6e3a"/>
<circle cx="83.49" cy="275.44" r="0.95" fill="#3a6e3a"/>
<circle cx="86.88" cy="275.85" r="0.95" fill="#3a6e3a"/>
<circle cx="79.51" cy="277.51" r="0.95" fill="#3a6e3a"/>
<circle cx="83.03" cy="278.17" r="0.95" fill="#3a6e3a"/>
<circle cx="86.94" cy="278.33" r="0.95" fill="#3a6e3a"/>
<circle cx="90.37" cy="279.04" r="0.95" fill="#3a6e3a"/>
<circle cx="85.15" cy="280.34" r="0.95" fill="#3a6e3a"/>
<circle cx="83.33" cy="280.33" r="0.95" fill="#3a6e3a"/>
<circle cx="86.51" cy="281.00" r="0.95" fill="#3a6e3a"/>
<circle cx="85.21" cy="285.20" r="0.95" fill="#3a6e3a"/>
<circle cx="85.39" cy="292.90" r="0.95" fill="#3a6e3a"/>
<line x1="85.00" y1="277.40" x2="85.00" y2="286.20" stroke="#3f943f" stroke-width="1.0"/>
<line x1="81.80" y1="277.40" x2="88.20" y2="277.40" stroke="#3f943f" stroke-width="1.0"/>
<line x1="81.80" y1="286.20" x2="88.20" y2="286.20" stroke="#3f943f" stroke-width="1.0"/>
<line x1="77.70" y1="281.10" x2="92.00" y2="281.10" stroke="#3f943f" stroke-width="1.2"/>
<text transform="translate(106.40,251.54) scale(0.9,1)" font-size="8.6" text-anchor="middle" fill="#333" stroke="#333" stroke-width="0.1" font-weight="normal" >a</text>
<text transform="translate(106.40,261.73) scale(0.9,1)" font-size="8.6" text-anchor="middle" fill="#333" stroke="#333" stroke-width="0.1" font-weight="normal" >Th3</text>
<circle cx="106.08" cy="266.30" r="0.95" fill="#3a6e3a"/>
<circle cx="102.64" cy="272.26" r="0.95" fill="#3a6e3a"/>
<circle cx="106.07" cy="272.87" r="0.95" fill="#3a6e3a"/>
<circle cx="110.25" cy="272.92" r="0.95" fill="#3a6e3a"/>
<circle cx="106.55" cy="277.01" r="0.95" fill="#3a6e3a"/>
<circle cx="106.03" cy="279.62" r="0.95" fill="#3a6e3a"/>
<circle cx="104.99" cy="282.20" r="0.95" fill="#3a6e3a"/>
<circle cx="108.57" cy="282.78" r="0.95" fill="#3a6e3a"/>
<circle cx="104.72" cy="285.80" r="0.95" fill="#3a6e3a"/>
<circle cx="108.29" cy="286.40" r="0.95" fill="#3a6e3a"/>
<circle cx="106.13" cy="289.60" r="0.95" fill="#3a6e3a"/>
<line x1="106.40" y1="271.40" x2="106.40" y2="289.10" stroke="#3f943f" stroke-width="1.0"/>
<line x1="103.20" y1="271.40" x2="109.60" y2="271.40" stroke="#3f943f" stroke-width="1.0"/>
<line x1="103.20" y1="289.10" x2="109.60" y2="289.10" stroke="#3f943f" stroke-width="1.0"/>
<line x1="99.80" y1="280.30" x2="114.20" y2="280.30" stroke="#3f943f" stroke-width="1.2"/>
<text transform="translate(128.50,217.04) scale(0.9,1)" font-size="8.6" text-anchor="middle" fill="#333" stroke="#333" stroke-width="0.1" font-weight="normal" >b</text>
<text transform="translate(128.50,226.73) scale(0.9,1)" font-size="8.6" text-anchor="middle" fill="#333" stroke="#333" stroke-width="0.1" font-weight="normal" >WT</text>
<circle cx="128.15" cy="232.00" r="1.00" fill="#c4842c"/>
<circle cx="125.16" cy="240.44" r="1.00" fill="#c4842c"/>
<circle cx="128.16" cy="241.01" r="1.00" fill="#c4842c"/>
<circle cx="132.25" cy="241.90" r="1.00" fill="#c4842c"/>
<circle cx="122.97" cy="247.79" r="1.00" fill="#c4842c"/>
<circle cx="126.62" cy="248.04" r="1.00" fill="#c4842c"/>
<circle cx="130.57" cy="248.16" r="1.00" fill="#c4842c"/>
<circle cx="133.51" cy="249.77" r="1.00" fill="#c4842c"/>
<circle cx="128.15" cy="251.00" r="1.00" fill="#c4842c"/>
<circle cx="128.83" cy="252.53" r="1.00" fill="#c4842c"/>
<circle cx="128.51" cy="253.86" r="1.00" fill="#c4842c"/>
<circle cx="128.17" cy="257.27" r="1.00" fill="#c4842c"/>
<circle cx="127.09" cy="258.82" r="1.00" fill="#c4842c"/>
<circle cx="130.66" cy="259.74" r="1.00" fill="#c4842c"/>
<circle cx="128.19" cy="261.11" r="1.00" fill="#c4842c"/>
<circle cx="128.44" cy="264.00" r="1.00" fill="#c4842c"/>
<line x1="128.50" y1="242.70" x2="128.50" y2="261.20" stroke="#f0a22e" stroke-width="1.0"/>
<line x1="125.30" y1="242.70" x2="131.70" y2="242.70" stroke="#f0a22e" stroke-width="1.0"/>
<line x1="125.30" y1="261.20" x2="131.70" y2="261.20" stroke="#f0a22e" stroke-width="1.0"/>
<line x1="121.20" y1="252.40" x2="135.80" y2="252.40" stroke="#f0a22e" stroke-width="1.2"/>
<text transform="translate(150.00,202.84) scale(0.9,1)" font-size="8.6" text-anchor="middle" fill="#333" stroke="#333" stroke-width="0.1" font-weight="normal" >c</text>
<text transform="translate(150.00,213.03) scale(0.9,1)" font-size="8.6" text-anchor="middle" fill="#333" stroke="#333" stroke-width="0.1" font-weight="normal" >Th3</text>
<circle cx="149.61" cy="218.80" r="1.00" fill="#c4842c"/>
<circle cx="149.82" cy="222.30" r="1.00" fill="#c4842c"/>
<circle cx="147.92" cy="232.78" r="1.00" fill="#c4842c"/>
<circle cx="152.10" cy="233.86" r="1.00" fill="#c4842c"/>
<circle cx="150.25" cy="235.48" r="1.00" fill="#c4842c"/>
<circle cx="148.44" cy="237.91" r="1.00" fill="#c4842c"/>
<circle cx="152.06" cy="239.58" r="1.00" fill="#c4842c"/>
<circle cx="148.40" cy="240.10" r="1.00" fill="#c4842c"/>
<circle cx="152.16" cy="240.44" r="1.00" fill="#c4842c"/>
<circle cx="150.24" cy="243.99" r="1.00" fill="#c4842c"/>
<circle cx="148.01" cy="245.52" r="1.00" fill="#c4842c"/>
<circle cx="152.08" cy="246.99" r="1.00" fill="#c4842c"/>
<circle cx="148.19" cy="247.99" r="1.00" fill="#c4842c"/>
<circle cx="152.00" cy="248.52" r="1.00" fill="#c4842c"/>
<circle cx="150.05" cy="251.72" r="1.00" fill="#c4842c"/>
<circle cx="149.94" cy="256.94" r="1.00" fill="#c4842c"/>
<circle cx="149.89" cy="260.80" r="1.00" fill="#c4842c"/>
<line x1="150.00" y1="228.70" x2="150.00" y2="253.00" stroke="#f0a22e" stroke-width="1.0"/>
<line x1="146.80" y1="228.70" x2="153.20" y2="228.70" stroke="#f0a22e" stroke-width="1.0"/>
<line x1="146.80" y1="253.00" x2="153.20" y2="253.00" stroke="#f0a22e" stroke-width="1.0"/>
<line x1="142.90" y1="241.30" x2="157.30" y2="241.30" stroke="#f0a22e" stroke-width="1.2"/>
<text transform="translate(184.00,190.20) scale(0.73,1)" font-size="11.6" text-anchor="middle" fill="#111" font-weight="bold" stroke="#111" stroke-width="0.35">E</text>
<line x1="220.60" y1="203.20" x2="220.60" y2="321.20" stroke="#222" stroke-width="1.1"/>
<line x1="218.00" y1="205.70" x2="220.60" y2="205.70" stroke="#222" stroke-width="1"/>
<text transform="translate(214.60,208.27) scale(0.87,1)" font-size="8.3" text-anchor="end" fill="#333" stroke="#333" stroke-width="0.1" font-weight="normal" >250</text>
<line x1="218.00" y1="228.80" x2="220.60" y2="228.80" stroke="#222" stroke-width="1"/>
<text transform="translate(214.60,231.37) scale(0.87,1)" font-size="8.3" text-anchor="end" fill="#333" stroke="#333" stroke-width="0.1" font-weight="normal" >200</text>
<line x1="218.00" y1="251.90" x2="220.60" y2="251.90" stroke="#222" stroke-width="1"/>
<text transform="translate(214.60,254.47) scale(0.87,1)" font-size="8.3" text-anchor="end" fill="#333" stroke="#333" stroke-width="0.1" font-weight="normal" >150</text>
<line x1="218.00" y1="275.00" x2="220.60" y2="275.00" stroke="#222" stroke-width="1"/>
<text transform="translate(214.60,277.57) scale(0.87,1)" font-size="8.3" text-anchor="end" fill="#333" stroke="#333" stroke-width="0.1" font-weight="normal" >100</text>
<line x1="218.00" y1="298.10" x2="220.60" y2="298.10" stroke="#222" stroke-width="1"/>
<text transform="translate(214.60,300.67) scale(0.87,1)" font-size="8.3" text-anchor="end" fill="#333" stroke="#333" stroke-width="0.1" font-weight="normal" >50</text>
<line x1="218.00" y1="321.20" x2="220.60" y2="321.20" stroke="#222" stroke-width="1"/>
<text transform="translate(214.60,323.77) scale(0.87,1)" font-size="8.3" text-anchor="end" fill="#333" stroke="#333" stroke-width="0.1" font-weight="normal" >0</text>
<text x="0" y="0" font-size="8.9" text-anchor="middle" fill="#404040" stroke="#404040" stroke-width="0.08" transform="translate(192.40,257.90) rotate(-90) scale(0.925,1)" dy="3.24">Fetal liver non-heme iron (µg/g)</text>
<line x1="235.30" y1="321.20" x2="235.30" y2="329.20" stroke="#555" stroke-width="0.9"/>
<path d="M256.60,321.20 L256.60,324.20 L267.80,327.40 L279.00,324.20 L279.00,321.20 M267.80,327.40 L267.80,329.50" fill="none" stroke="#5a5a5a" stroke-width="0.85"/>
<path d="M300.00,321.20 L300.00,324.20 L311.60,327.40 L323.20,324.20 L323.20,321.20 M311.60,327.40 L311.60,329.50" fill="none" stroke="#5a5a5a" stroke-width="0.85"/>
<text transform="translate(235.30,340.93) scale(0.9,1)" font-size="8.6" text-anchor="middle" fill="#333" stroke="#333" stroke-width="0.1" font-weight="normal" >WT1</text>
<text transform="translate(267.80,340.93) scale(0.9,1)" font-size="8.6" text-anchor="middle" fill="#333" stroke="#333" stroke-width="0.1" font-weight="normal" >WT2</text>
<text transform="translate(311.60,340.93) scale(0.9,1)" font-size="8.6" text-anchor="middle" fill="#333" stroke="#333" stroke-width="0.1" font-weight="normal" >Th3/+</text>
<line x1="220.10" y1="321.20" x2="336.10" y2="321.20" stroke="#222" stroke-width="1.1"/>
<text transform="translate(235.75,275.24) scale(0.9,1)" font-size="8.6" text-anchor="middle" fill="#333" stroke="#333" stroke-width="0.1" font-weight="normal" >a</text>
<text transform="translate(235.75,285.13) scale(0.9,1)" font-size="8.6" text-anchor="middle" fill="#333" stroke="#333" stroke-width="0.1" font-weight="normal" >WT</text>
<rect x="234.60" y="289.65" width="2.30" height="2.30" fill="#a3102f"/>
<rect x="234.60" y="304.05" width="2.30" height="2.30" fill="#a3102f"/>
<rect x="229.60" y="313.25" width="2.30" height="2.30" fill="#a3102f"/>
<rect x="234.60" y="313.05" width="2.30" height="2.30" fill="#a3102f"/>
<rect x="239.00" y="313.05" width="2.30" height="2.30" fill="#a3102f"/>
<line x1="235.75" y1="297.50" x2="235.75" y2="318.50" stroke="#c42c4c" stroke-width="1.0"/>
<line x1="232.55" y1="297.50" x2="238.95" y2="297.50" stroke="#c42c4c" stroke-width="1.0"/>
<line x1="232.55" y1="318.50" x2="238.95" y2="318.50" stroke="#c42c4c" stroke-width="1.0"/>
<line x1="228.25" y1="307.50" x2="243.25" y2="307.50" stroke="#c42c4c" stroke-width="1.2"/>
<text transform="translate(258.25,263.89) scale(0.9,1)" font-size="8.6" text-anchor="middle" fill="#333" stroke="#333" stroke-width="0.1" font-weight="normal" >b</text>
<text transform="translate(258.25,273.13) scale(0.9,1)" font-size="8.6" text-anchor="middle" fill="#333" stroke="#333" stroke-width="0.1" font-weight="normal" >WT</text>
<circle cx="258.25" cy="280.00" r="0.95" fill="#3a6e3a"/>
<circle cx="256.25" cy="286.00" r="0.95" fill="#3a6e3a"/>
<circle cx="260.25" cy="288.00" r="0.95" fill="#3a6e3a"/>
<circle cx="258.25" cy="291.00" r="0.95" fill="#3a6e3a"/>
<circle cx="258.25" cy="297.50" r="0.95" fill="#3a6e3a"/>
<line x1="258.25" y1="280.50" x2="258.25" y2="294.50" stroke="#3f943f" stroke-width="1.0"/>
<line x1="255.05" y1="280.50" x2="261.45" y2="280.50" stroke="#3f943f" stroke-width="1.0"/>
<line x1="255.05" y1="294.50" x2="261.45" y2="294.50" stroke="#3f943f" stroke-width="1.0"/>
<line x1="250.75" y1="287.50" x2="264.50" y2="287.50" stroke="#3f943f" stroke-width="1.2"/>
<text transform="translate(279.00,227.24) scale(0.9,1)" font-size="8.6" text-anchor="middle" fill="#333" stroke="#333" stroke-width="0.1" font-weight="normal" >c</text>
<text transform="translate(279.00,237.63) scale(0.9,1)" font-size="8.6" text-anchor="middle" fill="#333" stroke="#333" stroke-width="0.1" font-weight="normal" >Th3</text>
<circle cx="279.00" cy="243.00" r="0.95" fill="#3a6e3a"/>
<circle cx="277.00" cy="259.00" r="0.95" fill="#3a6e3a"/>
<circle cx="281.00" cy="260.00" r="0.95" fill="#3a6e3a"/>
<circle cx="277.00" cy="272.00" r="0.95" fill="#3a6e3a"/>
<circle cx="281.00" cy="272.00" r="0.95" fill="#3a6e3a"/>
<line x1="279.00" y1="248.75" x2="279.00" y2="272.50" stroke="#3f943f" stroke-width="1.0"/>
<line x1="275.80" y1="248.75" x2="282.20" y2="248.75" stroke="#3f943f" stroke-width="1.0"/>
<line x1="275.80" y1="272.50" x2="282.20" y2="272.50" stroke="#3f943f" stroke-width="1.0"/>
<line x1="272.00" y1="260.50" x2="287.00" y2="260.50" stroke="#3f943f" stroke-width="1.2"/>
<text transform="translate(300.75,263.89) scale(0.9,1)" font-size="8.6" text-anchor="middle" fill="#333" stroke="#333" stroke-width="0.1" font-weight="normal" >b</text>
<text transform="translate(300.75,273.88) scale(0.9,1)" font-size="8.6" text-anchor="middle" fill="#333" stroke="#333" stroke-width="0.1" font-weight="normal" >WT</text>
<circle cx="298.75" cy="281.00" r="1.00" fill="#c4842c"/>
<circle cx="302.75" cy="282.00" r="1.00" fill="#c4842c"/>
<circle cx="305.75" cy="282.00" r="1.00" fill="#c4842c"/>
<circle cx="300.75" cy="286.00" r="1.00" fill="#c4842c"/>
<circle cx="300.75" cy="292.50" r="1.00" fill="#c4842c"/>
<line x1="300.75" y1="280.00" x2="300.75" y2="288.75" stroke="#f0a22e" stroke-width="1.0"/>
<line x1="297.55" y1="280.00" x2="303.95" y2="280.00" stroke="#f0a22e" stroke-width="1.0"/>
<line x1="297.55" y1="288.75" x2="303.95" y2="288.75" stroke="#f0a22e" stroke-width="1.0"/>
<line x1="293.25" y1="284.50" x2="308.25" y2="284.50" stroke="#f0a22e" stroke-width="1.2"/>
<text transform="translate(322.00,205.64) scale(0.9,1)" font-size="8.6" text-anchor="middle" fill="#333" stroke="#333" stroke-width="0.1" font-weight="normal" >d</text>
<text transform="translate(322.00,214.38) scale(0.9,1)" font-size="8.6" text-anchor="middle" fill="#333" stroke="#333" stroke-width="0.1" font-weight="normal" >Th3</text>
<circle cx="322.00" cy="218.80" r="1.00" fill="#c4842c"/>
<circle cx="320.00" cy="231.00" r="1.00" fill="#c4842c"/>
<circle cx="324.00" cy="235.00" r="1.00" fill="#c4842c"/>
<circle cx="322.00" cy="240.00" r="1.00" fill="#c4842c"/>
<circle cx="322.00" cy="245.50" r="1.00" fill="#c4842c"/>
<line x1="322.00" y1="225.00" x2="322.00" y2="245.50" stroke="#f0a22e" stroke-width="1.0"/>
<line x1="318.80" y1="225.00" x2="325.20" y2="225.00" stroke="#f0a22e" stroke-width="1.0"/>
<line x1="318.80" y1="245.50" x2="325.20" y2="245.50" stroke="#f0a22e" stroke-width="1.0"/>
<line x1="315.00" y1="235.00" x2="329.50" y2="235.00" stroke="#f0a22e" stroke-width="1.2"/>
<text transform="translate(355.60,190.20) scale(0.8,1)" font-size="11.6" text-anchor="middle" fill="#111" font-weight="bold" stroke="#111" stroke-width="0.35">F</text>
<line x1="397.50" y1="203.20" x2="397.50" y2="260.50" stroke="#222" stroke-width="1.1"/>
<line x1="397.50" y1="266.80" x2="397.50" y2="321.20" stroke="#222" stroke-width="1.1"/>
<line x1="395.00" y1="263.00" x2="400.00" y2="258.50" stroke="#222" stroke-width="1"/>
<line x1="395.00" y1="269.30" x2="400.00" y2="264.80" stroke="#222" stroke-width="1"/>
<line x1="394.90" y1="205.50" x2="397.50" y2="205.50" stroke="#222" stroke-width="1"/>
<text transform="translate(391.50,208.07) scale(0.87,1)" font-size="8.3" text-anchor="end" fill="#333" stroke="#333" stroke-width="0.1" font-weight="normal" >400</text>
<line x1="394.90" y1="221.00" x2="397.50" y2="221.00" stroke="#222" stroke-width="1"/>
<text transform="translate(391.50,223.57) scale(0.87,1)" font-size="8.3" text-anchor="end" fill="#333" stroke="#333" stroke-width="0.1" font-weight="normal" >300</text>
<line x1="394.90" y1="236.60" x2="397.50" y2="236.60" stroke="#222" stroke-width="1"/>
<text transform="translate(391.50,239.17) scale(0.87,1)" font-size="8.3" text-anchor="end" fill="#333" stroke="#333" stroke-width="0.1" font-weight="normal" >200</text>
<line x1="394.90" y1="252.00" x2="397.50" y2="252.00" stroke="#222" stroke-width="1"/>
<text transform="translate(391.50,254.57) scale(0.87,1)" font-size="8.3" text-anchor="end" fill="#333" stroke="#333" stroke-width="0.1" font-weight="normal" >100</text>
<line x1="394.90" y1="267.20" x2="397.50" y2="267.20" stroke="#222" stroke-width="1"/>
<text transform="translate(391.50,269.77) scale(0.87,1)" font-size="8.3" text-anchor="end" fill="#333" stroke="#333" stroke-width="0.1" font-weight="normal" >30</text>
<line x1="394.90" y1="285.20" x2="397.50" y2="285.20" stroke="#222" stroke-width="1"/>
<text transform="translate(391.50,287.77) scale(0.87,1)" font-size="8.3" text-anchor="end" fill="#333" stroke="#333" stroke-width="0.1" font-weight="normal" >20</text>
<line x1="394.90" y1="303.20" x2="397.50" y2="303.20" stroke="#222" stroke-width="1"/>
<text transform="translate(391.50,305.77) scale(0.87,1)" font-size="8.3" text-anchor="end" fill="#333" stroke="#333" stroke-width="0.1" font-weight="normal" >10</text>
<line x1="394.90" y1="321.20" x2="397.50" y2="321.20" stroke="#222" stroke-width="1"/>
<text transform="translate(391.50,323.77) scale(0.87,1)" font-size="8.3" text-anchor="end" fill="#333" stroke="#333" stroke-width="0.1" font-weight="normal" >0</text>
<text x="0" y="0" font-size="8.9" text-anchor="middle" fill="#404040" stroke="#404040" stroke-width="0.08" transform="translate(369.10,261.90) rotate(-90) scale(0.853,1)" dy="3.24">Fetal liver hepcidin mRNA levels</text>
<line x1="412.20" y1="321.20" x2="412.20" y2="329.20" stroke="#555" stroke-width="0.9"/>
<path d="M433.50,321.20 L433.50,324.20 L444.70,327.40 L455.90,324.20 L455.90,321.20 M444.70,327.40 L444.70,329.50" fill="none" stroke="#5a5a5a" stroke-width="0.85"/>
<path d="M476.90,321.20 L476.90,324.20 L488.50,327.40 L500.10,324.20 L500.10,321.20 M488.50,327.40 L488.50,329.50" fill="none" stroke="#5a5a5a" stroke-width="0.85"/>
<text transform="translate(412.20,340.93) scale(0.9,1)" font-size="8.6" text-anchor="middle" fill="#333" stroke="#333" stroke-width="0.1" font-weight="normal" >WT1</text>
<text transform="translate(444.70,340.93) scale(0.9,1)" font-size="8.6" text-anchor="middle" fill="#333" stroke="#333" stroke-width="0.1" font-weight="normal" >WT2</text>
<text transform="translate(488.50,340.93) scale(0.9,1)" font-size="8.6" text-anchor="middle" fill="#333" stroke="#333" stroke-width="0.1" font-weight="normal" >Th3/+</text>
<line x1="397.00" y1="321.20" x2="512.70" y2="321.20" stroke="#222" stroke-width="1.1"/>
<text transform="translate(412.20,303.74) scale(0.9,1)" font-size="8.6" text-anchor="middle" fill="#333" stroke="#333" stroke-width="0.1" font-weight="normal" >a</text>
<text transform="translate(412.20,314.13) scale(0.9,1)" font-size="8.6" text-anchor="middle" fill="#333" stroke="#333" stroke-width="0.1" font-weight="normal" >WT</text>
<rect x="407.05" y="318.35" width="2.30" height="2.30" fill="#a3102f"/>
<rect x="409.05" y="318.85" width="2.30" height="2.30" fill="#a3102f"/>
<rect x="411.05" y="318.35" width="2.30" height="2.30" fill="#a3102f"/>
<rect x="413.05" y="318.85" width="2.30" height="2.30" fill="#a3102f"/>
<rect x="415.05" y="319.05" width="2.30" height="2.30" fill="#a3102f"/>
<line x1="412.20" y1="319.50" x2="412.20" y2="321.00" stroke="#c42c4c" stroke-width="1.0"/>
<line x1="409.00" y1="319.50" x2="415.40" y2="319.50" stroke="#c42c4c" stroke-width="1.0"/>
<line x1="409.00" y1="321.00" x2="415.40" y2="321.00" stroke="#c42c4c" stroke-width="1.0"/>
<line x1="405.00" y1="320.20" x2="419.20" y2="320.20" stroke="#c42c4c" stroke-width="1.2"/>
<text transform="translate(434.60,282.74) scale(0.9,1)" font-size="8.6" text-anchor="middle" fill="#333" stroke="#333" stroke-width="0.1" font-weight="normal" >b</text>
<text transform="translate(434.60,292.53) scale(0.9,1)" font-size="8.6" text-anchor="middle" fill="#333" stroke="#333" stroke-width="0.1" font-weight="normal" >WT</text>
<circle cx="434.60" cy="298.00" r="0.95" fill="#3a6e3a"/>
<circle cx="436.60" cy="302.00" r="0.95" fill="#3a6e3a"/>
<circle cx="432.60" cy="305.00" r="0.95" fill="#3a6e3a"/>
<circle cx="435.60" cy="309.00" r="0.95" fill="#3a6e3a"/>
<circle cx="434.60" cy="317.50" r="0.95" fill="#3a6e3a"/>
<line x1="434.60" y1="297.80" x2="434.60" y2="311.30" stroke="#3f943f" stroke-width="1.0"/>
<line x1="431.40" y1="297.80" x2="437.80" y2="297.80" stroke="#3f943f" stroke-width="1.0"/>
<line x1="431.40" y1="311.30" x2="437.80" y2="311.30" stroke="#3f943f" stroke-width="1.0"/>
<line x1="426.20" y1="304.80" x2="441.60" y2="304.80" stroke="#3f943f" stroke-width="1.2"/>
<text transform="translate(455.60,200.64) scale(0.9,1)" font-size="8.6" text-anchor="middle" fill="#333" stroke="#333" stroke-width="0.1" font-weight="normal" >c</text>
<text transform="translate(455.60,211.33) scale(0.9,1)" font-size="8.6" text-anchor="middle" fill="#333" stroke="#333" stroke-width="0.1" font-weight="normal" >Th3</text>
<circle cx="455.60" cy="216.60" r="0.95" fill="#3a6e3a"/>
<circle cx="455.60" cy="225.00" r="0.95" fill="#3a6e3a"/>
<circle cx="455.60" cy="232.00" r="0.95" fill="#3a6e3a"/>
<circle cx="454.60" cy="240.00" r="0.95" fill="#3a6e3a"/>
<circle cx="455.60" cy="253.90" r="0.95" fill="#3a6e3a"/>
<line x1="455.60" y1="218.00" x2="455.60" y2="247.40" stroke="#3f943f" stroke-width="1.0"/>
<line x1="452.40" y1="218.00" x2="458.80" y2="218.00" stroke="#3f943f" stroke-width="1.0"/>
<line x1="452.40" y1="247.40" x2="458.80" y2="247.40" stroke="#3f943f" stroke-width="1.0"/>
<line x1="448.60" y1="232.90" x2="462.60" y2="232.90" stroke="#3f943f" stroke-width="1.2"/>
<text transform="translate(476.60,243.54) scale(0.9,1)" font-size="8.6" text-anchor="middle" fill="#333" stroke="#333" stroke-width="0.1" font-weight="normal" >d</text>
<text transform="translate(476.60,252.83) scale(0.9,1)" font-size="8.6" text-anchor="middle" fill="#333" stroke="#333" stroke-width="0.1" font-weight="normal" >WT</text>
<circle cx="476.60" cy="260.00" r="1.00" fill="#c4842c"/>
<circle cx="477.60" cy="269.00" r="1.00" fill="#c4842c"/>
<circle cx="475.60" cy="281.00" r="1.00" fill="#c4842c"/>
<circle cx="478.60" cy="283.00" r="1.00" fill="#c4842c"/>
<circle cx="476.60" cy="293.00" r="1.00" fill="#c4842c"/>
<line x1="476.60" y1="260.00" x2="476.60" y2="299.20" stroke="#f0a22e" stroke-width="1.0"/>
<line x1="473.40" y1="260.00" x2="479.80" y2="260.00" stroke="#f0a22e" stroke-width="1.0"/>
<line x1="473.40" y1="299.20" x2="479.80" y2="299.20" stroke="#f0a22e" stroke-width="1.0"/>
<line x1="469.00" y1="272.60" x2="484.20" y2="272.60" stroke="#f0a22e" stroke-width="1.2"/>
<text transform="translate(499.00,199.24) scale(0.9,1)" font-size="8.6" text-anchor="middle" fill="#333" stroke="#333" stroke-width="0.1" font-weight="normal" >c</text>
<text transform="translate(499.00,209.93) scale(0.9,1)" font-size="8.6" text-anchor="middle" fill="#333" stroke="#333" stroke-width="0.1" font-weight="normal" >Th3</text>
<circle cx="499.00" cy="214.60" r="1.00" fill="#c4842c"/>
<circle cx="499.00" cy="240.00" r="1.00" fill="#c4842c"/>
<circle cx="497.00" cy="255.00" r="1.00" fill="#c4842c"/>
<circle cx="501.00" cy="253.00" r="1.00" fill="#c4842c"/>
<circle cx="499.00" cy="262.00" r="1.00" fill="#c4842c"/>
<line x1="499.00" y1="225.80" x2="499.00" y2="271.20" stroke="#f0a22e" stroke-width="1.0"/>
<line x1="495.80" y1="225.80" x2="502.20" y2="225.80" stroke="#f0a22e" stroke-width="1.0"/>
<line x1="495.80" y1="271.20" x2="502.20" y2="271.20" stroke="#f0a22e" stroke-width="1.0"/>
<line x1="491.50" y1="244.60" x2="506.00" y2="244.60" stroke="#f0a22e" stroke-width="1.2"/>
<text transform="translate(11.20,367.70) scale(0.85,1)" font-size="11.6" text-anchor="middle" fill="#111" font-weight="bold" stroke="#111" stroke-width="0.35">G</text>
<text transform="translate(72.40,390.43) scale(0.9,1)" font-size="8.6" text-anchor="middle" fill="#333" stroke="#333" stroke-width="0.1" font-weight="normal" >WT1</text>
<line x1="72.40" y1="394.50" x2="72.40" y2="404.80" stroke="#2f5479" stroke-width="0.9"/>
<path d="M70.80,404.00 L74.00,404.00 L72.40,407.00 Z" fill="#2f5479"/>
<text transform="translate(151.00,390.53) scale(0.9,1)" font-size="8.6" text-anchor="middle" fill="#333" stroke="#333" stroke-width="0.1" font-weight="normal" >WT2</text>
<line x1="123.90" y1="395.80" x2="177.40" y2="395.80" stroke="#2f5479" stroke-width="0.9"/>
<line x1="123.90" y1="395.40" x2="123.90" y2="404.40" stroke="#2f5479" stroke-width="0.9"/>
<path d="M122.30,403.60 L125.50,403.60 L123.90,406.60 Z" fill="#2f5479"/>
<line x1="177.40" y1="395.40" x2="177.40" y2="404.40" stroke="#2f5479" stroke-width="0.9"/>
<path d="M175.80,403.60 L179.00,403.60 L177.40,406.60 Z" fill="#2f5479"/>
<text transform="translate(253.80,390.73) scale(0.9,1)" font-size="8.6" text-anchor="middle" fill="#333" stroke="#333" stroke-width="0.1" font-weight="normal" >Th3/+</text>
<line x1="229.20" y1="395.80" x2="279.90" y2="395.80" stroke="#2f5479" stroke-width="0.9"/>
<line x1="229.20" y1="395.40" x2="229.20" y2="404.40" stroke="#2f5479" stroke-width="0.9"/>
<path d="M227.60,403.60 L230.80,403.60 L229.20,406.60 Z" fill="#2f5479"/>
<line x1="279.90" y1="395.40" x2="279.90" y2="404.40" stroke="#2f5479" stroke-width="0.9"/>
<path d="M278.30,403.60 L281.50,403.60 L279.90,406.60 Z" fill="#2f5479"/>
<text transform="translate(72.50,417.43) scale(0.9,1)" font-size="8.6" text-anchor="middle" fill="#333" stroke="#333" stroke-width="0.1" font-weight="normal" >WT</text>
<text transform="translate(124.20,417.43) scale(0.9,1)" font-size="8.6" text-anchor="middle" fill="#333" stroke="#333" stroke-width="0.1" font-weight="normal" >WT</text>
<text transform="translate(177.50,417.43) scale(0.9,1)" font-size="8.6" text-anchor="middle" fill="#333" stroke="#333" stroke-width="0.1" font-weight="normal" >Th3/+</text>
<text transform="translate(229.00,417.43) scale(0.9,1)" font-size="8.6" text-anchor="middle" fill="#333" stroke="#333" stroke-width="0.1" font-weight="normal" >WT</text>
<text transform="translate(279.20,417.43) scale(0.9,1)" font-size="8.6" text-anchor="middle" fill="#333" stroke="#333" stroke-width="0.1" font-weight="normal" >Th3/+</text>
<path d="M48.60,434.20 L48.60,430.20 Q48.60,428.70 50.10,428.70 L71.20,428.70 Q72.50,428.70 72.50,427.20 L72.50,422.60 M72.50,427.20 Q72.50,428.70 73.80,428.70 L94.50,428.70 Q96.00,428.70 96.00,430.20 L96.00,434.20" fill="none" stroke="#2f5479" stroke-width="0.95"/>
<path d="M99.60,434.20 L99.60,430.20 Q99.60,428.70 101.10,428.70 L122.90,428.70 Q124.20,428.70 124.20,427.20 L124.20,422.60 M124.20,427.20 Q124.20,428.70 125.50,428.70 L145.80,428.70 Q147.30,428.70 147.30,430.20 L147.30,434.20" fill="none" stroke="#2f5479" stroke-width="0.95"/>
<path d="M153.90,434.20 L153.90,430.20 Q153.90,428.70 155.40,428.70 L176.10,428.70 Q177.40,428.70 177.40,427.20 L177.40,422.60 M177.40,427.20 Q177.40,428.70 178.70,428.70 L199.10,428.70 Q200.60,428.70 200.60,430.20 L200.60,434.20" fill="none" stroke="#2f5479" stroke-width="0.95"/>
<path d="M205.40,434.20 L205.40,430.20 Q205.40,428.70 206.90,428.70 L227.90,428.70 Q229.20,428.70 229.20,427.20 L229.20,422.60 M229.20,427.20 Q229.20,428.70 230.50,428.70 L251.20,428.70 Q252.70,428.70 252.70,430.20 L252.70,434.20" fill="none" stroke="#2f5479" stroke-width="0.95"/>
<path d="M255.50,434.20 L255.50,430.20 Q255.50,428.70 257.00,428.70 L278.60,428.70 Q279.90,428.70 279.90,427.20 L279.90,422.60 M279.90,427.20 Q279.90,428.70 281.20,428.70 L300.80,428.70 Q302.30,428.70 302.30,430.20 L302.30,434.20" fill="none" stroke="#2f5479" stroke-width="0.95"/>
<defs><filter id="bl" x="-30%" y="-100%" width="160%" height="300%"><feGaussianBlur stdDeviation="0.95"/></filter><filter id="bl2" x="-30%" y="-100%" width="160%" height="300%"><feGaussianBlur stdDeviation="0.55"/></filter><linearGradient id="bg1" x1="0" y1="0" x2="0" y2="1"><stop offset="0" stop-color="#f3f3f3"/><stop offset="1" stop-color="#fafafa"/></linearGradient><linearGradient id="bg2" x1="0" y1="0" x2="0" y2="1"><stop offset="0" stop-color="#e9e9e9"/><stop offset="0.5" stop-color="#eeeeee"/><stop offset="1" stop-color="#f6f6f6"/></linearGradient></defs>
<rect x="45.4" y="435.4" width="262.4" height="17.0" fill="url(#bg1)" stroke="#2a2a2a" stroke-width="1.1"/>
<rect x="45.4" y="456.0" width="262.4" height="16.4" fill="url(#bg2)" stroke="#2a2a2a" stroke-width="1.1"/>
<defs><linearGradient id="sm1" x1="0" y1="0" x2="1" y2="0"><stop offset="0" stop-color="#7a7a7a"/><stop offset="0.5" stop-color="#8e8e8e"/><stop offset="1" stop-color="#b0b0b0"/></linearGradient></defs>
<g filter="url(#bl)"><rect x="70.20" y="443.00" width="13.20" height="5.00" rx="1.67" fill="#333333"/><rect x="86.20" y="443.30" width="13.00" height="4.80" rx="1.60" fill="#404040"/><rect x="103.50" y="442.80" width="14.00" height="6.60" rx="2.20" fill="#000000"/><rect x="119.60" y="442.80" width="13.80" height="6.40" rx="2.13" fill="#000000"/><rect x="136.30" y="443.00" width="13.00" height="5.60" rx="1.87" fill="#0e0e0e"/><rect x="153.20" y="443.10" width="12.60" height="5.00" rx="1.67" fill="#161616"/><rect x="171.00" y="443.10" width="12.80" height="5.00" rx="1.67" fill="#1a1a1a"/><rect x="187.10" y="443.20" width="12.80" height="4.80" rx="1.60" fill="#242424"/><rect x="204.00" y="442.70" width="13.60" height="5.80" rx="1.93" fill="#060606"/><rect x="221.00" y="442.50" width="14.00" height="6.60" rx="2.20" fill="#000000"/><rect x="236.80" y="442.50" width="13.20" height="6.20" rx="2.07" fill="#040404"/><rect x="253.20" y="443.90" width="12.80" height="4.20" rx="1.40" fill="#686868"/><rect x="270.00" y="443.60" width="13.40" height="4.40" rx="1.47" fill="#5c5c5c"/><rect x="287.90" y="442.80" width="13.60" height="4.40" rx="1.47" fill="#666666" transform="rotate(-9 294.7 445.0)"/><path d="M51.0,440.6 C55,439.8 60,441.8 66.5,443.2 L66.8,447.0 C60,446.8 55,445.6 51.0,445.0 Z" fill="url(#sm1)"/></g>
<g filter="url(#bl2)"><rect x="50.10" y="464.90" width="13.0" height="1.4" rx="0.7" fill="#262626"/><rect x="65.50" y="464.90" width="13.0" height="1.4" rx="0.7" fill="#262626"/><rect x="80.70" y="464.90" width="13.0" height="1.4" rx="0.7" fill="#262626"/><rect x="97.00" y="464.90" width="13.0" height="1.4" rx="0.7" fill="#262626"/><rect x="115.60" y="464.90" width="13.0" height="1.4" rx="0.7" fill="#262626"/><rect x="134.40" y="464.90" width="13.0" height="1.4" rx="0.7" fill="#262626"/><rect x="151.90" y="464.90" width="13.0" height="1.4" rx="0.7" fill="#262626"/><rect x="170.20" y="464.90" width="13.0" height="1.4" rx="0.7" fill="#262626"/><rect x="190.70" y="464.90" width="13.0" height="1.4" rx="0.7" fill="#262626"/><rect x="208.60" y="464.90" width="13.0" height="1.4" rx="0.7" fill="#262626"/><rect x="224.80" y="464.90" width="13.0" height="1.4" rx="0.7" fill="#262626"/><rect x="239.80" y="464.90" width="13.0" height="1.4" rx="0.7" fill="#262626"/><rect x="255.80" y="464.90" width="13.0" height="1.4" rx="0.7" fill="#262626"/><rect x="272.20" y="464.90" width="13.0" height="1.4" rx="0.7" fill="#262626"/><rect x="290.10" y="464.90" width="13.0" height="1.4" rx="0.7" fill="#262626"/></g>
<text transform="translate(41.90,446.53) scale(0.9,1)" font-size="8.6" text-anchor="end" fill="#333" stroke="#333" stroke-width="0.1" font-weight="normal" >FPN1</text>
<text transform="translate(42.20,466.63) scale(0.9,1)" font-size="8.6" text-anchor="end" fill="#333" stroke="#333" stroke-width="0.1" font-weight="normal" >ACTB</text>
<text transform="translate(310.60,447.33) scale(0.9,1)" font-size="8.6" text-anchor="start" fill="#333" stroke="#333" stroke-width="0.1" font-weight="normal" >62 kDa</text>
<text transform="translate(310.60,467.13) scale(0.9,1)" font-size="8.6" text-anchor="start" fill="#333" stroke="#333" stroke-width="0.1" font-weight="normal" >42 kDa</text>
<line x1="397.10" y1="372.00" x2="397.10" y2="472.00" stroke="#222" stroke-width="1.1"/>
<line x1="394.50" y1="374.70" x2="397.10" y2="374.70" stroke="#222" stroke-width="1"/>
<text transform="translate(391.10,377.27) scale(0.87,1)" font-size="8.3" text-anchor="end" fill="#333" stroke="#333" stroke-width="0.1" font-weight="normal" >4</text>
<line x1="394.50" y1="399.10" x2="397.10" y2="399.10" stroke="#222" stroke-width="1"/>
<text transform="translate(391.10,401.67) scale(0.87,1)" font-size="8.3" text-anchor="end" fill="#333" stroke="#333" stroke-width="0.1" font-weight="normal" >3</text>
<line x1="394.50" y1="423.50" x2="397.10" y2="423.50" stroke="#222" stroke-width="1"/>
<text transform="translate(391.10,426.07) scale(0.87,1)" font-size="8.3" text-anchor="end" fill="#333" stroke="#333" stroke-width="0.1" font-weight="normal" >2</text>
<line x1="394.50" y1="447.80" x2="397.10" y2="447.80" stroke="#222" stroke-width="1"/>
<text transform="translate(391.10,450.37) scale(0.87,1)" font-size="8.3" text-anchor="end" fill="#333" stroke="#333" stroke-width="0.1" font-weight="normal" >1</text>
<line x1="394.50" y1="472.00" x2="397.10" y2="472.00" stroke="#222" stroke-width="1"/>
<text transform="translate(391.10,474.57) scale(0.87,1)" font-size="8.3" text-anchor="end" fill="#333" stroke="#333" stroke-width="0.1" font-weight="normal" >0</text>
<text x="0" y="0" font-size="8.9" text-anchor="middle" fill="#404040" stroke="#404040" stroke-width="0.08" transform="translate(378.10,421.00) rotate(-90) scale(0.828,1)" dy="3.24">Placenta FPN1 protein levels</text>
<line x1="396.60" y1="472.00" x2="495.00" y2="472.00" stroke="#222" stroke-width="1.1"/>
<line x1="409.30" y1="472.00" x2="409.30" y2="480.00" stroke="#555" stroke-width="0.9"/>
<path d="M428.10,472.00 L428.10,475.00 L437.10,478.20 L446.10,475.00 L446.10,472.00 M437.10,478.20 L437.10,480.30" fill="none" stroke="#5a5a5a" stroke-width="0.85"/>
<path d="M464.20,472.00 L464.20,475.00 L473.40,478.20 L482.60,475.00 L482.60,472.00 M473.40,478.20 L473.40,480.30" fill="none" stroke="#5a5a5a" stroke-width="0.85"/>
<text transform="translate(409.40,490.73) scale(0.9,1)" font-size="8.6" text-anchor="middle" fill="#333" stroke="#333" stroke-width="0.1" font-weight="normal" >WT1</text>
<text transform="translate(436.90,490.73) scale(0.9,1)" font-size="8.6" text-anchor="middle" fill="#333" stroke="#333" stroke-width="0.1" font-weight="normal" >WT2</text>
<text transform="translate(473.10,490.73) scale(0.9,1)" font-size="8.6" text-anchor="middle" fill="#333" stroke="#333" stroke-width="0.1" font-weight="normal" >Th3/+</text>
<text transform="translate(410.00,430.44) scale(0.9,1)" font-size="8.6" text-anchor="middle" fill="#333" stroke="#333" stroke-width="0.1" font-weight="normal" >a</text>
<text transform="translate(410.00,440.53) scale(0.9,1)" font-size="8.6" text-anchor="middle" fill="#333" stroke="#333" stroke-width="0.1" font-weight="normal" >WT</text>
<rect x="405.85" y="443.85" width="2.30" height="2.30" fill="#a3102f"/>
<rect x="408.85" y="443.15" width="2.30" height="2.30" fill="#a3102f"/>
<rect x="411.85" y="444.85" width="2.30" height="2.30" fill="#a3102f"/>
<rect x="406.85" y="446.85" width="2.30" height="2.30" fill="#a3102f"/>
<rect x="410.85" y="447.35" width="2.30" height="2.30" fill="#a3102f"/>
<rect x="408.85" y="450.75" width="2.30" height="2.30" fill="#a3102f"/>
<line x1="410.00" y1="445.00" x2="410.00" y2="450.00" stroke="#c42c4c" stroke-width="1.0"/>
<line x1="406.80" y1="445.00" x2="413.20" y2="445.00" stroke="#c42c4c" stroke-width="1.0"/>
<line x1="406.80" y1="450.00" x2="413.20" y2="450.00" stroke="#c42c4c" stroke-width="1.0"/>
<line x1="404.20" y1="447.30" x2="415.70" y2="447.30" stroke="#c42c4c" stroke-width="1.2"/>
<text transform="translate(428.30,379.14) scale(0.9,1)" font-size="8.6" text-anchor="middle" fill="#333" stroke="#333" stroke-width="0.1" font-weight="normal" >b</text>
<text transform="translate(428.30,388.33) scale(0.9,1)" font-size="8.6" text-anchor="middle" fill="#333" stroke="#333" stroke-width="0.1" font-weight="normal" >WT</text>
<circle cx="428.30" cy="393.00" r="0.95" fill="#3a6e3a"/>
<circle cx="428.30" cy="402.00" r="0.95" fill="#3a6e3a"/>
<circle cx="427.30" cy="412.00" r="0.95" fill="#3a6e3a"/>
<circle cx="429.30" cy="418.00" r="0.95" fill="#3a6e3a"/>
<circle cx="428.30" cy="424.00" r="0.95" fill="#3a6e3a"/>
<circle cx="428.30" cy="431.70" r="0.95" fill="#3a6e3a"/>
<line x1="428.30" y1="402.20" x2="428.30" y2="431.70" stroke="#3f943f" stroke-width="1.0"/>
<line x1="425.10" y1="402.20" x2="431.50" y2="402.20" stroke="#3f943f" stroke-width="1.0"/>
<line x1="425.10" y1="431.70" x2="431.50" y2="431.70" stroke="#3f943f" stroke-width="1.0"/>
<line x1="422.00" y1="416.70" x2="434.50" y2="416.70" stroke="#3f943f" stroke-width="1.2"/>
<text transform="translate(446.00,415.54) scale(0.9,1)" font-size="8.6" text-anchor="middle" fill="#333" stroke="#333" stroke-width="0.1" font-weight="normal" >ac</text>
<text transform="translate(446.00,424.43) scale(0.9,1)" font-size="8.6" text-anchor="middle" fill="#333" stroke="#333" stroke-width="0.1" font-weight="normal" >Th3</text>
<circle cx="446.00" cy="428.50" r="0.95" fill="#3a6e3a"/>
<circle cx="445.00" cy="436.00" r="0.95" fill="#3a6e3a"/>
<circle cx="447.00" cy="440.00" r="0.95" fill="#3a6e3a"/>
<circle cx="444.00" cy="445.50" r="0.95" fill="#3a6e3a"/>
<circle cx="447.50" cy="445.00" r="0.95" fill="#3a6e3a"/>
<line x1="446.00" y1="428.20" x2="446.00" y2="445.50" stroke="#3f943f" stroke-width="1.0"/>
<line x1="442.80" y1="428.20" x2="449.20" y2="428.20" stroke="#3f943f" stroke-width="1.0"/>
<line x1="442.80" y1="445.50" x2="449.20" y2="445.50" stroke="#3f943f" stroke-width="1.0"/>
<line x1="439.80" y1="437.40" x2="452.00" y2="437.40" stroke="#3f943f" stroke-width="1.2"/>
<text transform="translate(464.00,407.64) scale(0.9,1)" font-size="8.6" text-anchor="middle" fill="#333" stroke="#333" stroke-width="0.1" font-weight="normal" >bc</text>
<text transform="translate(464.00,416.83) scale(0.9,1)" font-size="8.6" text-anchor="middle" fill="#333" stroke="#333" stroke-width="0.1" font-weight="normal" >WT</text>
<circle cx="464.00" cy="421.00" r="1.00" fill="#c4842c"/>
<circle cx="462.00" cy="425.00" r="1.00" fill="#c4842c"/>
<circle cx="466.00" cy="426.00" r="1.00" fill="#c4842c"/>
<circle cx="464.00" cy="430.00" r="1.00" fill="#c4842c"/>
<circle cx="463.00" cy="434.00" r="1.00" fill="#c4842c"/>
<circle cx="466.00" cy="435.00" r="1.00" fill="#c4842c"/>
<line x1="464.00" y1="421.30" x2="464.00" y2="435.10" stroke="#f0a22e" stroke-width="1.0"/>
<line x1="460.80" y1="421.30" x2="467.20" y2="421.30" stroke="#f0a22e" stroke-width="1.0"/>
<line x1="460.80" y1="435.10" x2="467.20" y2="435.10" stroke="#f0a22e" stroke-width="1.0"/>
<line x1="458.20" y1="428.20" x2="469.70" y2="428.20" stroke="#f0a22e" stroke-width="1.2"/>
<text transform="translate(482.40,427.44) scale(0.9,1)" font-size="8.6" text-anchor="middle" fill="#333" stroke="#333" stroke-width="0.1" font-weight="normal" >a</text>
<text transform="translate(482.40,436.63) scale(0.9,1)" font-size="8.6" text-anchor="middle" fill="#333" stroke="#333" stroke-width="0.1" font-weight="normal" >Th3</text>
<circle cx="482.40" cy="440.00" r="1.00" fill="#c4842c"/>
<circle cx="480.40" cy="446.00" r="1.00" fill="#c4842c"/>
<circle cx="484.40" cy="447.00" r="1.00" fill="#c4842c"/>
<circle cx="482.40" cy="452.00" r="1.00" fill="#c4842c"/>
<circle cx="480.40" cy="455.00" r="1.00" fill="#c4842c"/>
<circle cx="483.90" cy="457.00" r="1.00" fill="#c4842c"/>
<line x1="482.40" y1="440.40" x2="482.40" y2="457.00" stroke="#f0a22e" stroke-width="1.0"/>
<line x1="479.20" y1="440.40" x2="485.60" y2="440.40" stroke="#f0a22e" stroke-width="1.0"/>
<line x1="479.20" y1="457.00" x2="485.60" y2="457.00" stroke="#f0a22e" stroke-width="1.0"/>
<line x1="475.90" y1="449.60" x2="488.10" y2="449.60" stroke="#f0a22e" stroke-width="1.2"/>
<rect x="0.5" y="0.5" width="519" height="499" fill="none" stroke="#555" stroke-width="1"/>
</svg></body></html>
